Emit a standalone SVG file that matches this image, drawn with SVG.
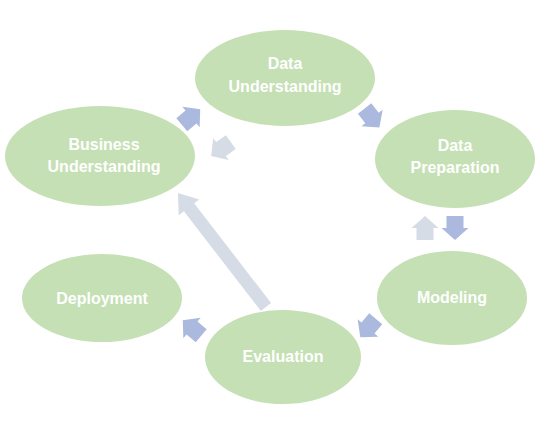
<svg xmlns="http://www.w3.org/2000/svg" width="550" height="422" viewBox="0 0 550 422">
<style>
.node{fill:#c5e0b4;}
.lbl{fill:#ffffff;font-family:"Liberation Sans",Arial,sans-serif;font-weight:bold;font-size:16px;text-anchor:middle;}
.dark{fill:#abb9de;}
.light{fill:#d6dce5;}
</style>
<defs>
<path id="blk" d="M-12,-8.5 L0,-8.5 L0,-13.5 L12,0 L0,13.5 L0,8.5 L-12,8.5 Z"/>
</defs>
<rect width="550" height="422" fill="#ffffff"/>
<g id="data-understanding">
<ellipse class="node" cx="285" cy="78" rx="90" ry="48"/>
<text class="lbl" x="285" y="69">Data</text>
<text class="lbl" x="285" y="92">Understanding</text>
</g>
<g id="business-understanding">
<ellipse class="node" cx="100" cy="156" rx="95" ry="50"/>
<text class="lbl" x="104" y="150">Business</text>
<text class="lbl" x="104" y="172">Understanding</text>
</g>
<g id="data-preparation">
<ellipse class="node" cx="455" cy="159" rx="80" ry="49"/>
<text class="lbl" x="455" y="151">Data</text>
<text class="lbl" x="455" y="173">Preparation</text>
</g>
<g id="modeling">
<ellipse class="node" cx="452" cy="298" rx="75" ry="47"/>
<text class="lbl" x="452" y="303">Modeling</text>
</g>
<g id="evaluation">
<ellipse class="node" cx="283" cy="357" rx="78" ry="47"/>
<text class="lbl" x="283" y="362">Evaluation</text>
</g>
<g id="deployment">
<ellipse class="node" cx="102" cy="298" rx="80" ry="44"/>
<text class="lbl" x="102" y="304">Deployment</text>
</g>
<g id="connectors">
<use href="#blk" class="dark" transform="translate(191,117) rotate(-40)"/>
<use href="#blk" class="dark" transform="translate(372,118) rotate(52)"/>
<use href="#blk" class="dark" transform="translate(455,228) rotate(90)"/>
<use href="#blk" class="light" transform="translate(425,228) rotate(-90)"/>
<use href="#blk" class="dark" transform="translate(368,328) rotate(130)"/>
<use href="#blk" class="dark" transform="translate(192,328) rotate(-140)"/>
<use href="#blk" class="light" transform="translate(221,149) rotate(145)"/>
<polygon class="light" points="178,193 199.3,199.4 194.1,203.3 271.1,303 260.9,311 183.9,211.3 178.7,215.2"/>
</g>
</svg>
